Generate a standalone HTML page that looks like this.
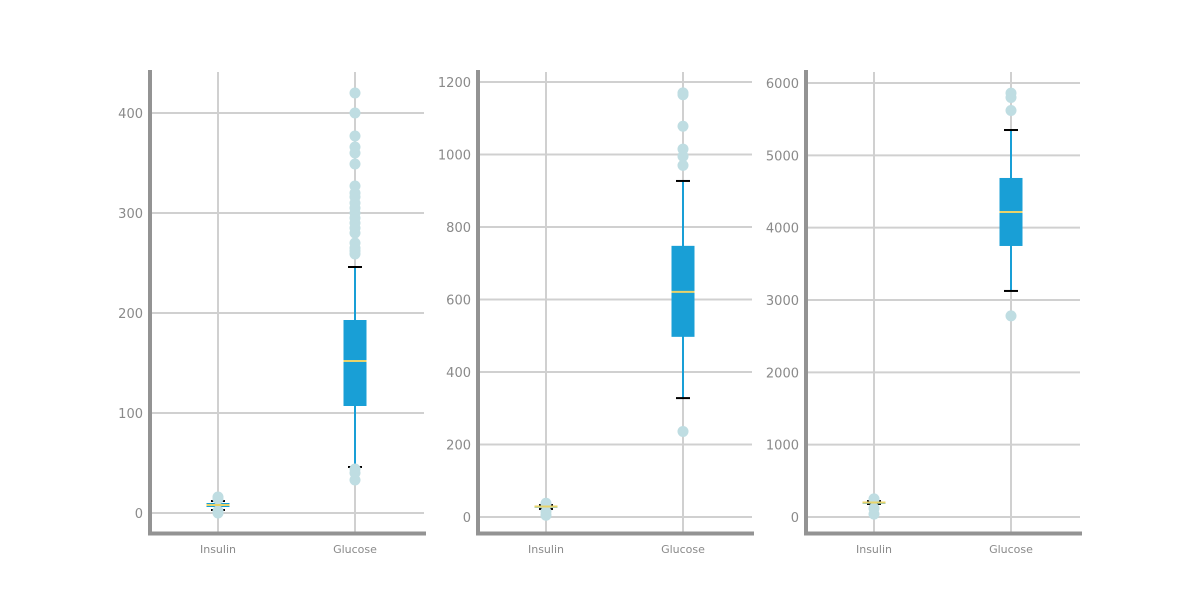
<!DOCTYPE html>
<html><head><meta charset="utf-8"><style>
html,body{margin:0;padding:0;background:#fff;}
svg{display:block;font-family:"DejaVu Sans","Liberation Sans",sans-serif;}
</style></head><body>
<svg id="chart" width="1200" height="600" xmlns="http://www.w3.org/2000/svg"></svg>
<script>
const categories = ["Insulin","Glucose"];
const p1Stats = [[3,6,8,10,12],[46,107,152,193,246]];
const p1Outliers = [[0,2,14,16],[33,40,44,259,262,265,270,280,285,290,295,300,305,310,316,320,327,349,360,366,377,400,420]];
const p1Ticks = [0,100,200,300,400];
const p2Stats = [[22,26,29,31,33],[328,497,621,748,927]];
const p2Outliers = [[5,15,38],[236,970,995,1015,1078,1165,1170]];
const p2Ticks = [0,200,400,600,800,1000,1200];
const p3Stats = [[180,190,200,210,220],[3125,3747,4217,4687,5350]];
const p3Outliers = [[40,120,250],[2780,5620,5800,5860]];
const p3Ticks = [0,1000,2000,3000,4000,5000,6000];

const NS="http://www.w3.org/2000/svg";
const svg=document.getElementById('chart');
function mk(tag,attrs,parent){const e=document.createElementNS(NS,tag);for(const k in attrs)e.setAttribute(k,attrs[k]);(parent||svg).appendChild(e);return e;}

const panels=[
 {x0:150,y0:513,yTop:113,vTop:400,stats:p1Stats,out:p1Outliers,ticks:p1Ticks,name:'panel-1'},
 {x0:478,y0:517,yTop:82,vTop:1200,stats:p2Stats,out:p2Outliers,ticks:p2Ticks,name:'panel-2'},
 {x0:806,y0:517,yTop:83,vTop:6000,stats:p3Stats,out:p3Outliers,ticks:p3Ticks,name:'panel-3'}
];
panels.forEach(p=>{
 const g=mk('g',{});
 
 
 const y=v=>p.y0-(v/p.vTop)*(p.y0-p.yTop);
 const xs=[p.x0+68,p.x0+205];
 const W=274;
 p.ticks.forEach(t=>{
  const l=mk('line',{x1:p.x0,x2:p.x0+W,y1:y(t),y2:y(t),stroke:'#d0d0d0','stroke-width':2},g);
  
  
  const tx=mk('text',{x:p.x0-7,y:y(t)+5,'text-anchor':'end','font-size':13,fill:'#8a8a8a'},g);
  tx.textContent=t;
  
  
 });
 xs.forEach(x=>{
  const l=mk('line',{x1:x,x2:x,y1:72,y2:533,stroke:'#d0d0d0','stroke-width':2},g);
  
  
 });
 categories.forEach((c,i)=>{
  const s=p.stats[i],x=xs[i],hw=11.5;
  const wl=mk('line',{x1:x,x2:x,y1:y(s[0]),y2:y(s[4]),stroke:'#199fd6','stroke-width':2},g);
  
  
  [s[0],s[4]].forEach(v=>{
   const cp=mk('line',{x1:x-7,x2:x+7,y1:y(v),y2:y(v),stroke:'#000','stroke-width':2},g);
   
   
  });
  const b=mk('rect',{x:x-hw,y:y(s[3]),width:hw*2,height:Math.max(2,y(s[1])-y(s[3])),fill:'#199fd6'},g);
  
  
  p.out[i].forEach(v=>{
   const o=mk('circle',{cx:x,cy:y(v),r:5.5,fill:'#bfdde2'},g);
   
   
  });
  const m=mk('line',{x1:x-hw,x2:x+hw,y1:y(s[2]),y2:y(s[2]),stroke:'#e8d36a','stroke-width':2},g);
  
  
  const lb=mk('text',{x:x,y:553,'text-anchor':'middle','font-size':11,fill:'#8a8a8a'},g);
  lb.textContent=c;
  
  
 });
 const ls=mk('line',{x1:p.x0,x2:p.x0,y1:70,y2:535,stroke:'#939393','stroke-width':4},g);
 
 
 const bs=mk('line',{x1:p.x0-2,x2:p.x0+W+2,y1:533.5,y2:533.5,stroke:'#939393','stroke-width':4},g);
 
 
});
</script>
</body></html>
